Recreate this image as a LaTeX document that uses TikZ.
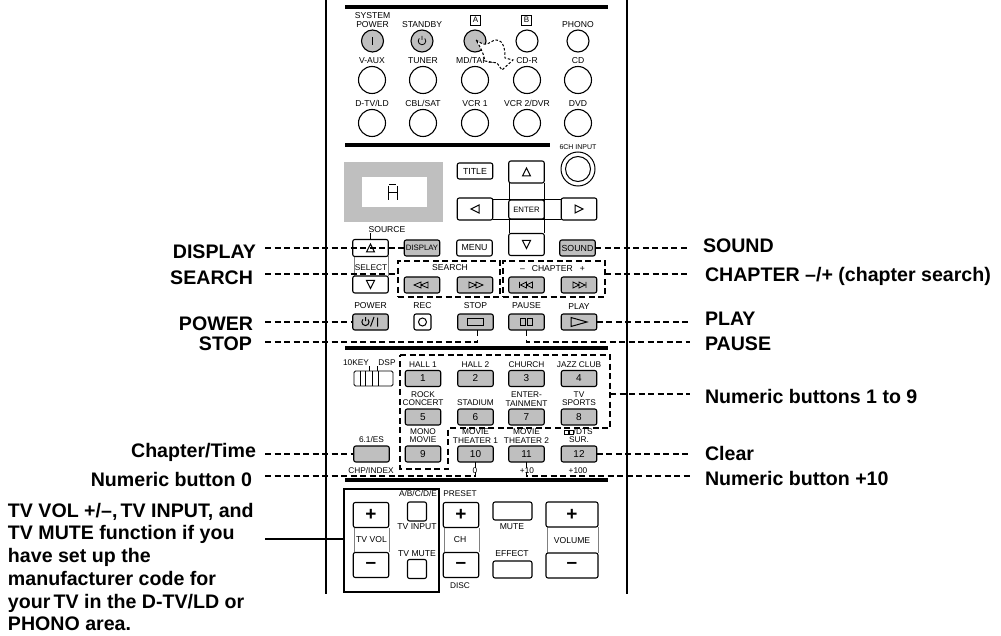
\documentclass[tikz,border=0pt]{standalone}
\usepackage{fontspec}
\setmainfont{Liberation Sans}
\usetikzlibrary{calc,positioning}
\definecolor{keygray}{gray}{0.75}
\definecolor{railgray}{gray}{0.5}
\tikzset{
  lbl/.style={inner sep=0pt, outer sep=0pt, align=center, font=\fontsize{8.3}{8.5}\selectfont},
  biglbl/.style={lbl, font=\fontsize{8.6}{9}\selectfont},
  callout/.style={inner sep=0pt, outer sep=0pt, font=\fontsize{19.6}{22.7}\selectfont\bfseries},
  key/.style={draw, rounded corners=2pt, line width=1.1pt, fill=white, minimum width=35.5pt, minimum height=16pt, inner sep=0pt, outer sep=0pt, font=\fontsize{8.8}{9}\selectfont},
  greykey/.style={key, fill=keygray},
  tallkey/.style={key, minimum height=25pt, font=\fontsize{19}{19}\selectfont\bfseries},
  smallkey/.style={key, minimum width=19pt, minimum height=19pt},
  circbtn/.style={draw, circle, line width=1.1pt, minimum size=27pt, inner sep=0pt, outer sep=0pt},
  smallcirc/.style={circbtn, minimum size=22pt},
  lead/.style={line width=1.5pt, dash pattern=on 6pt off 3.5pt},
  dashbox/.style={draw, lead, minimum width=102pt, minimum height=36pt, inner sep=0pt, outer sep=0pt},
  letterbox/.style={draw, line width=0.8pt, minimum width=10.5pt, minimum height=10pt, inner sep=0pt, font=\fontsize{8}{8}\selectfont},
  rail/.style={line width=2.8pt},
  sym/.style={line width=1pt}
}
\begin{document}
\begin{tikzpicture}[x=1pt,y=-1pt]
  \useasboundingbox (0,0) rectangle (1001,636);

  % Draw side rails and separator bars
  \draw[rail] (326,0) -- (326,594);
  \draw[rail] (627,0) -- (627,594);
  \foreach \ya/\xb in {7/608,145/550,348/608,480/608}
    \draw[line width=3.2pt] (345,\ya) -- (\xb,\ya);

  % Draw input selector buttons with their labels
  \node[smallcirc, fill=keygray] (sysp) at (372.5,41) {};
  \node[smallcirc, fill=keygray] (stby) at (422,41) {};
  \node[smallcirc, fill=keygray] (abtn) at (475,41) {};
  \node[smallcirc] (bbtn) at (527,41) {};
  \node[smallcirc] (phono) at (578,41) {};
  \node[biglbl, above=2pt of sysp] (syspTxt) {SYSTEM\\POWER};
  \node[biglbl, above=2pt of stby] (stbyTxt) {STANDBY};
  \node[biglbl, above=2pt of phono] (phonoTxt) {PHONO};
  \node[letterbox] (aBox) at (475.5,20) {A};
  \node[letterbox] (bBox) at (526.5,20) {B};
  \foreach \nm/\cx/\cy/\txt in {vaux/372/80/V-AUX,tuner/423/80/TUNER,mdtape/475/80/{MD/TAPE},cdr/527/80/CD-R,cdp/578/80/CD,dtv/372/123/{D-TV/LD},cbl/423/123/{CBL/SAT},vcra/475/123/VCR 1,vcrb/527/123/{VCR 2/DVR},dvd/578/123/DVD}
  {
    \node[circbtn] (\nm) at (\cx,\cy) {};
    \node[biglbl, above=3pt of \nm] (\nm Txt) {\txt};
  }
  \draw[line width=1.8pt, shift={(sysp.center)}] (0,-4) -- (0,4);
  \draw[line width=0.8pt, shift={(stby.center)}] (2.8,-2.6) arc[start angle=-43, end angle=223, radius=3.8] (0,-5) -- (0,-1);

  % Draw the dotted cut-out curve over the button
  \draw[line width=1pt, fill=white, dash pattern=on 2.5pt off 1.8pt] (476,40) .. controls (480,43) and (484,45) .. (487,44) .. controls (490,43) and (493,40) .. (496,40) .. controls (504,40) and (505,50) .. (505,58) -- (513,60) -- (502,70) -- (497,63) -- (485,61) .. controls (484,55) and (481,48) .. (476,40) -- cycle;

  % Draw the display window
  \node[fill=keygray, minimum width=99pt, minimum height=60pt, inner sep=0pt] (window) at (393.5,192) {};
  \node[fill=white, minimum width=65pt, minimum height=30pt, inner sep=0pt] (screen) at (394.5,192) {};
  \draw[line width=1pt] (388,200) -- (388,186) (397,186) -- (397,200) (389,185) -- (396,185) (388,192.5) -- (397,192.5);

  % Draw the cursor cross and menu keys
  \draw[line width=0.8pt] (509,183) -- (509,233) (544,183) -- (544,233) (493,199) -- (561,199) (493,219) -- (561,219);
  \node[key] (title) at (475,171) {TITLE};
  \node[key, minimum height=22pt] (upk) at (526.5,172) {};
  \node[key, minimum height=22pt] (leftk) at (475,209) {};
  \node[key, minimum height=19pt, font=\fontsize{7.8}{8}\selectfont] (enter) at (526.5,209.5) {ENTER};
  \node[key, minimum height=22pt] (rightk) at (579,209) {};
  \node[key, minimum height=22pt] (downk) at (526.5,244.5) {};
  \draw[sym, shift={(upk.center)}] (-4,4) -- (0,-4) -- (4,4) -- cycle;
  \draw[sym, shift={(downk.center)}] (-4,-4) -- (0,4) -- (4,-4) -- cycle;
  \draw[sym, shift={(leftk.center)}] (4,-4) -- (-4,0) -- (4,4) -- cycle;
  \draw[sym, shift={(rightk.center)}] (-4,-4) -- (4,0) -- (-4,4) -- cycle;
  \node[draw, circle, line width=1pt, minimum size=34pt, inner sep=0pt] (chin) at (578,169) {};
  \node[draw, circle, line width=1pt, minimum size=25pt, inner sep=0pt] (chinb) at (578,169) {};
  \node[lbl, font=\fontsize{7}{7}\selectfont] (chinTxt) at (578,147) {6CH INPUT};

  % Draw source select keys
  \draw[railgray, line width=0.9pt] (354,256) -- (354,276) (388,256) -- (388,276);
  \node[key, minimum height=17pt] (srcup) at (370.5,248) {};
  \node[key, minimum height=17pt] (srcdn) at (370.5,284.5) {};
  \node[biglbl] (srcTxt) at (387,230) {SOURCE};
  \node[lbl] (selTxt) at (371,268) {SELECT};
  \draw[line width=0.7pt] (srcTxt.south -| srcup.north) -- (srcup.north);
  \draw[sym, shift={(srcup.center)}] (-4,4) -- (0,-4) -- (4,4) -- cycle;
  \draw[sym, shift={(srcdn.center)}] (-4,-4) -- (0,4) -- (4,-4) -- cycle;
  \node[greykey, font=\fontsize{7.8}{8}\selectfont] (display) at (422,248) {DISPLAY};
  \node[key, right=17pt of display] (menu) {MENU};
  \node[greykey, right=67.5pt of menu] (sound) {SOUND};

  % Draw search and chapter keys
  \node[dashbox] (srchBox) at (449,279) {};
  \node[dashbox] (chapBox) at (554,279) {};
  \node[biglbl] (srchTxt) at (450,268) {SEARCH};
  \node[biglbl] (chapTxt) at (552.5,269) {--\hspace{7pt}CHAPTER\hspace{7pt}+};
  \foreach \nm/\cx in {rew/422,fwd/475,prv/526.5,nxt/579}
    \node[greykey] (\nm) at (\cx,285) {};
  \draw[line width=0.8pt, shift={(rew.center)}] (-1,-3) -- (-8,0) -- (-1,3) -- cycle (6,-3) -- (-1,0) -- (6,3) -- cycle;
  \draw[line width=0.8pt, shift={(fwd.center)}] (1,-3) -- (8,0) -- (1,3) -- cycle (-6,-3) -- (1,0) -- (-6,3) -- cycle;
  \draw[line width=0.8pt, shift={(prv.center)}] (0,-3) -- (-6,0) -- (0,3) -- cycle (6,-3) -- (0,0) -- (6,3) -- cycle (-7,-3) -- (-7,3);
  \draw[line width=0.8pt, shift={(nxt.center)}] (0,-3) -- (6,0) -- (0,3) -- cycle (-6,-3) -- (0,0) -- (-6,3) -- cycle (7,-3) -- (7,3);

  % Draw transport keys
  \node[greykey] (powk) at (370.5,322) {};
  \node[key, minimum width=17pt] (reck) at (422.5,322) {};
  \node[greykey] (stopk) at (475.5,322) {};
  \node[greykey] (pausek) at (526.5,322) {};
  \node[greykey] (playk) at (579,322) {};
  \foreach \nm/\txt in {powk/POWER,reck/REC,stopk/STOP,pausek/PAUSE,playk/PLAY}
    \node[biglbl, above=5pt of \nm] (\nm Txt) {\txt};
  \draw[sym, shift={(powk.center)}] (-2.5,-2.6) arc[start angle=-45, end angle=225, radius=3.6] (-5,-5) -- (-5,-1) (0,4.5) -- (3.5,-5) (7,-4.5) -- (7,4.5);
  \draw[sym] (reck.center) circle[radius=4];
  \draw[sym, shift={(stopk.center)}] (-8,-3.5) rectangle (8,3.5);
  \draw[sym, shift={(pausek.center)}] (-6,-3.5) rectangle (-1,3.5) (1,-3.5) rectangle (6,3.5);
  \draw[sym, shift={(playk.center)}] (-8,-4.5) -- (8,0) -- (-8,4.5) -- cycle;

  % Draw the numeric keys with their labels
  \foreach \n/\cx/\cy/\txt in {1/423/378.5/{HALL 1},2/475.5/378.5/{HALL 2},3/526.5/378.5/{CHURCH},4/579/378.5/{JAZZ CLUB},5/423/417/{ROCK\\CONCERT},6/475.5/417/{STADIUM},7/526.5/417/{ENTER-\\TAINMENT},8/579/417/{TV\\SPORTS},9/423/454/{MONO\\MOVIE},10/475.5/454/{MOVIE\\THEATER 1},11/526.5/454/{MOVIE\\THEATER 2},12/579/454/{\phantom{xx}/DTS\\SUR.}}
  {
    \node[greykey, font=\fontsize{10}{10}\selectfont] (k\n) at (\cx,\cy) {\n};
    \node[lbl, above=3pt of k\n] (k\n Txt) {\txt};
  }
  \draw[line width=0.9pt] (564,430) rectangle (568,434) (569,430) rectangle (573,434);
  \node[greykey] (esk) at (371.5,454) {};
  \node[lbl, above=3pt of esk] (esTxt) {6.1/ES};
  \foreach \nm/\cx/\txt in {chpIdx/371/{CHP/INDEX},zeroTxt/475/0,tenTxt/527/+10,hunTxt/578/+100}
    \node[lbl] (\nm) at (\cx,471) {\txt};

  % Draw the 10KEY and DSP slider
  \node[lbl] (tenkey) at (356,363) {10KEY};
  \node[lbl] (dsp) at (387,363) {DSP};
  \node[draw, rounded corners=1.5pt, line width=0.9pt, minimum width=39pt, minimum height=15pt, inner sep=0pt] (slider) at (373.5,378.5) {};
  \draw[line width=0.9pt] (360,371) -- (360,386) (365,371) -- (365,386) (372,371) -- (372,386) (378,371) -- (378,386);
  \draw[line width=0.6pt] (369,366) -- (369,371) (377,366) -- (377,371);

  % Draw the lower volume block
  \draw[railgray, line width=0.9pt] (354,528) -- (354,552) (389,528) -- (389,552) (444,528) -- (444,552) (479,528) -- (479,552) (547,527) -- (547,553) (598,527) -- (598,553);
  \node[draw, line width=2pt, minimum width=95pt, minimum height=103pt, inner sep=0pt, outer sep=0pt] (tvBox) at (391.5,540.5) {};
  \node[tallkey] (tvup) at (371,515) {+};
  \node[tallkey] (tvdn) at (371,565) {--};
  \node[biglbl] (tvVol) at (371.5,539.5) {TV VOL};
  \node[lbl] (abcde) at (418,494) {A/B/C/D/E};
  \node[smallkey] (tvin) at (417,511.5) {};
  \node[biglbl] (tvinTxt) at (417,527) {TV INPUT};
  \node[biglbl] (tvmuTxt) at (417,554) {TV MUTE};
  \node[smallkey] (tvmu) at (417,569) {};
  \node[lbl] (preset) at (460,494) {PRESET};
  \node[tallkey] (chup) at (461,515) {+};
  \node[tallkey] (chdn) at (461,565) {--};
  \node[biglbl] (chTxt) at (460,540) {CH};
  \node[lbl] (disc) at (460,586) {DISC};
  \node[key, minimum width=39pt, minimum height=18pt] (mute) at (512.5,511) {};
  \node[biglbl] (muteTxt) at (512,527) {MUTE};
  \node[biglbl] (effTxt) at (512,554) {EFFECT};
  \node[key, minimum width=39pt, minimum height=17pt] (effect) at (512.5,569.5) {};
  \node[tallkey, minimum width=52pt] (volup) at (572,514.5) {+};
  \node[tallkey, minimum width=52pt] (voldn) at (572,565.5) {--};
  \node[biglbl] (volTxt) at (572,541) {VOLUME};

  % Left callouts
  \foreach \nm/\cx/\cy/\txt in {dispLbl/256/252/DISPLAY,srchLbl/253/278/SEARCH,powLbl/253/324/POWER,stopLbl/252/344/STOP,chapLbl/256/452/{Chapter/Time},zeroLbl/252/479/{Numeric button 0}}
    \node[callout, anchor=east] (\nm) at (\cx,\cy) {\txt};
  \node[callout, anchor=north west, align=left] (tvLbl) at (8,503) {TV VOL +/--,\,TV INPUT, and\\TV MUTE function if you\\have set up the\\manufacturer code for\\your\,TV in the D-TV/LD or\\PHONO area.};

  % Right callouts
  \foreach \nm/\cx/\cy/\txt in {soundLbl/703/246/SOUND,csLbl/705/276/{CHAPTER --/+ (chapter search)},playLbl/705/319/PLAY,pauseLbl/705/344/PAUSE,numLbl/705/396/{Numeric buttons 1 to 9},clearLbl/705/453/Clear,tenLbl/705/478/{Numeric button +10}}
    \node[callout, anchor=west] (\nm) at (\cx,\cy) {\txt};

  % Draw the numeric area outline
  \draw[lead] (400,355) -- (610,355) -- (610,428) -- (448,428) -- (448,469) -- (400,469) -- cycle;

  % Free ends of the dashed leaders
  \coordinate (dispEnd) at (265,248);
  \coordinate (srchEnd) at (265,274);
  \coordinate (powEnd) at (265,322);
  \coordinate (stopEnd) at (265,342);
  \coordinate (chapEnd) at (265,454);
  \coordinate (zeroEnd) at (265,476);
  \coordinate (soundEnd) at (690,248);
  \coordinate (csEnd) at (690,274);
  \coordinate (playEnd) at (690,322);
  \coordinate (pauseEnd) at (690,342);
  \coordinate (numEdge) at (610,394);
  \coordinate (numEnd) at (690,394);
  \coordinate (clearEnd) at (690,454);
  \coordinate (tenEnd) at (690,476);
  \coordinate (tvEnd) at (265,539);

  % Draw dashed leaders
  \foreach \a/\b in {dispEnd/display.west,powEnd/powk.west,chapEnd/esk.west,sound.east/soundEnd,playk.east/playEnd,numEdge/numEnd,k12.east/clearEnd}
    \draw[lead] (\a) -- (\b);
  \draw[lead] (srchEnd) -- (srchEnd -| srchBox.west);
  \draw[lead] (chapBox.east |- csEnd) -- (csEnd);
  \draw[lead] (stopEnd) -| ([xshift=2pt]stopk.south);
  \draw[lead] (zeroEnd) -| (k10.south);
  \draw[lead] (pausek.south) |- (pauseEnd);
  \draw[lead] (k11.south) |- (tenEnd);

  % Draw solid leader to the TV block
  \draw[line width=1.6pt] (tvEnd) -- (tvEnd -| tvBox.west);
\end{tikzpicture}
\end{document}
